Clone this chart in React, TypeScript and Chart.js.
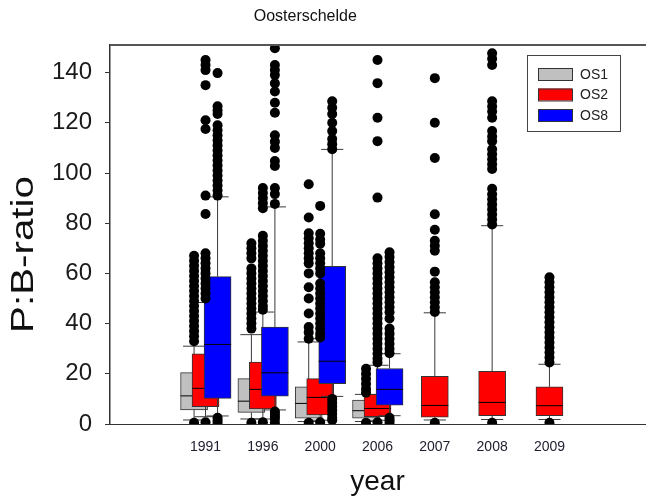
import { useEffect, useRef } from 'react';
import { Chart, registerables } from 'chart.js';

Chart.register(...registerables);

const TITLE = 'Oosterschelde';
const X_TITLE = 'year';
const Y_TITLE = 'P:B-ratio';
const YEARS = ['1991', '1996', '2000', '2006', '2007', '2008', '2009'];
const SERIES = ['OS1', 'OS2', 'OS8'];
const Y_TICKS = [0, 20, 40, 60, 80, 100, 120, 140];

// OS1 (grey)
const OS1_LOW = [1.6, 2.0, 1.0, 1.0, null, null, null];
const OS1_Q1 = [5.6, 4.6, 2.3, 2.3, null, null, null];
const OS1_MED = [11.2, 9.1, 8.2, 5.3, null, null, null];
const OS1_Q3 = [20.5, 18.1, 14.8, 9.5, null, null, null];
const OS1_HIGH = [31, 35.6, 32.7, 11.8, null, null, null];
const OS1_OUT = [
  [0.5, 33, 35, 37, 39, 41, 43, 45, 47, 49, 51, 53, 55, 57, 59, 61, 63, 65, 67],
  [0.5, 38, 40, 42, 44, 46, 48, 50, 52, 54, 56, 58, 60, 62, 66, 68, 70, 72],
  [0.5, 34, 36.5, 38.6, 44, 50, 54.5, 60, 64, 66, 68, 70, 72, 74, 76, 82.3, 95.5],
  [0.5, 12.5, 14, 16, 18, 20, 22],
  [], [], [],
];

// OS2 (red)
const OS2_LOW = [2.9, 2.0, 1.5, 1.5, 1.6, 1.8, 1.8];
const OS2_Q1 = [6.9, 6.0, 3.6, 2.9, 2.7, 3.3, 3.3];
const OS2_MED = [14.2, 13.8, 10.6, 6.2, 7.4, 8.6, 7.3];
const OS2_Q3 = [28, 24.7, 18.1, 11.8, 19, 21, 14.8];
const OS2_HIGH = [48.4, 44.6, 34, 23.4, 44.3, 79, 23.8];
const OS2_OUT = [
  [0.7, 50, 52, 54, 56, 58, 60, 62, 64, 66, 68, 83.7, 91, 117.5, 121, 135, 141, 143, 145],
  [0.7, 45.5, 47, 49, 51, 53, 55, 57, 59, 61, 63, 65, 67, 69, 71, 73, 75, 86, 88, 90, 92, 94],
  [0.7, 34.5, 36, 38, 40, 42, 44, 46, 48, 50, 52, 54, 56, 60, 62, 64, 66, 68, 71.8, 73.5, 75.8, 86.9],
  [0.7, 24.5, 26, 28, 30, 32, 34, 36, 38, 40, 42, 44, 46, 48, 50, 52, 54, 56, 58, 60, 62, 64, 66, 90.2, 112.7, 122, 135.8, 145],
  [0.5, 44.6, 46.5, 48.5, 50.5, 52.5, 54.5, 56.5, 60.7, 69, 71, 73, 77.4, 83.6, 106, 120, 137.8],
  [0.5, 79.5, 81.5, 83.5, 85.5, 87.5, 89.5, 91.5, 93.7, 101.6, 103.5, 105.5, 107.5, 109.5, 112.7, 114.5, 116.7, 122, 124.5, 126.5, 128.6, 143, 145.5, 147.7],
  [0.5, 24.5, 26.5, 28.5, 30.5, 32.5, 34.5, 36.5, 38.5, 40.5, 42.5, 44.5, 46.5, 48.5, 50.5, 52.5, 54.5, 56.5, 58.5],
];

// OS8 (blue)
const OS8_LOW = [3.2, 5.6, 11, 3.3, null, null, null];
const OS8_Q1 = [10.2, 11.1, 16.1, 7.5, null, null, null];
const OS8_MED = [31.7, 20.4, 25, 13.8, null, null, null];
const OS8_Q3 = [58.7, 38.6, 62.8, 22.1, null, null, null];
const OS8_HIGH = [90.5, 86.5, 109.4, 28, null, null, null];
const OS8_OUT = [
  [0.5, 1.5, 2.5, 91, 93, 95, 97, 99, 101, 103, 105, 107, 109, 111, 113, 115, 117, 119, 123.5, 125, 126.6, 139.8],
  [0.5, 2, 3, 4, 5, 87.7, 91.6, 94, 102.8, 104.8, 110, 112.5, 115, 124, 128, 132.5, 135.7, 139, 141, 143, 149.7],
  [1.5, 2.5, 4, 5.5, 7, 8.5, 10, 109.5, 111.5, 113.5, 116.7, 120, 123.5, 126, 128.6],
  [0.5, 1.5, 2.5, 28.2, 30, 32, 34, 36, 38, 42, 44.5, 46.5, 48.5, 50.5, 52.5, 54.5, 56.5, 58.5, 60.5, 62.5, 64.5, 66.5, 68.4],
  [], [], [],
];

const COLORS = ['#c0c0c0', '#ff0000', '#0000ff'];
const OFFSETS = [-0.2, 0, 0.21];
const FONT = "'Liberation Sans', Arial, sans-serif";

type Stat = { x: number; lo: number; q1: number; med: number; q3: number; hi: number };

function buildStats(lo: any[], q1: any[], med: any[], q3: any[], hi: any[], off: number): Stat[] {
  const out: Stat[] = [];
  YEARS.forEach((_, i) => {
    if (q1[i] == null) return;
    out.push({ x: i + 1 + off, lo: lo[i], q1: q1[i], med: med[i], q3: q3[i], hi: hi[i] });
  });
  return out;
}

const STATS = [
  buildStats(OS1_LOW, OS1_Q1, OS1_MED, OS1_Q3, OS1_HIGH, OFFSETS[0]),
  buildStats(OS2_LOW, OS2_Q1, OS2_MED, OS2_Q3, OS2_HIGH, OFFSETS[1]),
  buildStats(OS8_LOW, OS8_Q1, OS8_MED, OS8_Q3, OS8_HIGH, OFFSETS[2]),
];
const OUTLIERS = [OS1_OUT, OS2_OUT, OS8_OUT];

const boxPlugin = {
  id: 'boxWhiskers',
  afterDatasetDraw(chart: any, args: any) {
    const ds = chart.data.datasets[args.index];
    if (!ds.boxStats) return;
    const y = chart.scales.y;
    const ctx = chart.ctx;
    ctx.save();
    args.meta.data.forEach((el: any, i: number) => {
      const s = ds.boxStats[i];
      const cx = el.x;
      const w = el.width;
      const cap = w * 0.82;
      const pQ1 = y.getPixelForValue(s.q1);
      const pQ3 = y.getPixelForValue(s.q3);
      const pLo = y.getPixelForValue(s.lo);
      const pHi = y.getPixelForValue(s.hi);
      const pMed = y.getPixelForValue(s.med);
      ctx.strokeStyle = '#3a3a3a';
      ctx.lineWidth = 1;
      ctx.beginPath();
      ctx.moveTo(cx, pQ3);
      ctx.lineTo(cx, pHi);
      ctx.moveTo(cx - cap / 2, pHi);
      ctx.lineTo(cx + cap / 2, pHi);
      ctx.moveTo(cx, pQ1);
      ctx.lineTo(cx, pLo);
      ctx.moveTo(cx - cap / 2, pLo);
      ctx.lineTo(cx + cap / 2, pLo);
      ctx.stroke();
      ctx.strokeStyle = '#000';
      ctx.beginPath();
      ctx.moveTo(cx - w / 2, pMed);
      ctx.lineTo(cx + w / 2, pMed);
      ctx.stroke();
    });
    ctx.restore();
  },
  afterDraw(chart: any) {
    const ctx = chart.ctx;
    const a = chart.chartArea;
    ctx.save();
    // top frame line
    ctx.strokeStyle = '#555';
    ctx.lineWidth = 2;
    ctx.beginPath();
    ctx.moveTo(a.left, a.top);
    ctx.lineTo(a.right + 2, a.top);
    ctx.stroke();
    // titles
    ctx.fillStyle = '#111';
    ctx.textAlign = 'center';
    ctx.textBaseline = 'middle';
    ctx.font = `16px ${FONT}`;
    ctx.fillText(TITLE, a.left + (a.right - a.left) * 0.365, 17);
    ctx.font = `28px ${FONT}`;
    ctx.fillText(X_TITLE, (a.left + a.right) / 2, 482);
    ctx.save();
    ctx.translate(24, (a.top + a.bottom) / 2 + 20);
    ctx.rotate(-Math.PI / 2);
    ctx.scale(1.3, 1);
    ctx.font = `31px ${FONT}`;
    ctx.fillText(Y_TITLE, 0, 0);
    ctx.restore();
    // legend
    const lx = 527, ly = 55, lw = 93, lh = 76;
    ctx.fillStyle = '#fff';
    ctx.fillRect(lx, ly, lw, lh);
    ctx.strokeStyle = '#444';
    ctx.lineWidth = 1;
    ctx.strokeRect(lx + 0.5, ly + 0.5, lw, lh);
    SERIES.forEach((name, i) => {
      const cy = 74 + i * 20.5;
      ctx.fillStyle = COLORS[i];
      ctx.fillRect(538, cy - 6, 34, 12);
      ctx.strokeStyle = '#333';
      ctx.strokeRect(538.5, cy - 5.5, 34, 12);
      ctx.fillStyle = '#222';
      ctx.textAlign = 'left';
      ctx.font = `14px ${FONT}`;
      ctx.fillText(name, 580, cy + 1);
    });
    ctx.restore();
  },
};

export default function App() {
  const ref = useRef<HTMLCanvasElement | null>(null);
  useEffect(() => {
    if (!ref.current) return;
    const boxSets: any[] = STATS.map((st, s) => ({
      type: 'bar',
      label: SERIES[s],
      data: st.map((r) => ({ x: r.x, y: [r.q1, r.q3] })),
      boxStats: st,
      backgroundColor: COLORS[s],
      borderColor: '#333',
      borderWidth: 1,
      borderSkipped: false,
      barThickness: 27,
      grouped: false,
      order: 3 - s,
    }));
    const outSets: any[] = OUTLIERS.map((out, s) => ({
      type: 'scatter',
      label: SERIES[s] + ' outliers',
      data: out.flatMap((vals, i) => vals.map((v) => ({ x: i + 1 + OFFSETS[s], y: v }))),
      backgroundColor: '#000',
      borderColor: '#000',
      borderWidth: 0,
      pointRadius: 5,
      order: 0,
    }));
    const chart = new Chart(ref.current, {
      type: 'bar',
      data: { datasets: [...boxSets, ...outSets] },
      options: {
        animation: false,
        responsive: false,
        layout: { padding: { top: 45, right: 2, left: 0, bottom: 0 } },
        plugins: { legend: { display: false }, tooltip: { enabled: false }, title: { display: false } },
        scales: {
          x: {
            type: 'linear',
            min: 0,
            max: 8,
            grid: { display: false, drawTicks: false },
            border: { display: true, color: '#333', width: 1 },
            afterBuildTicks: (scale: any) => {
              scale.ticks = YEARS.map((_, i) => ({ value: i + 1 }));
            },
            afterFit: (scale: any) => {
              scale.height = 79;
            },
            ticks: {
              autoSkip: false,
              maxRotation: 0,
              padding: 15,
              color: '#1c1c2e',
              font: { family: FONT, size: 14 },
              callback: (v: any) => YEARS[Math.round(v) - 1] ?? '',
            },
          },
          y: {
            type: 'linear',
            min: 0,
            max: 151,
            grid: { drawOnChartArea: false, drawTicks: true, tickLength: 5, color: '#333' },
            border: { display: true, color: '#333', width: 1.5 },
            afterBuildTicks: (scale: any) => {
              scale.ticks = Y_TICKS.map((v) => ({ value: v }));
            },
            afterFit: (scale: any) => {
              scale.width = 110;
            },
            ticks: {
              padding: 13,
              color: '#1a1a1a',
              font: { family: FONT, size: 24 },
            },
          },
        },
      },
      plugins: [boxPlugin],
    } as any);
    return () => chart.destroy();
  }, []);
  return (
    <canvas
      ref={ref}
      width={650}
      height={503}
      style={{ position: 'fixed', left: 0, top: 0, width: 650, height: 503 }}
    />
  );
}
